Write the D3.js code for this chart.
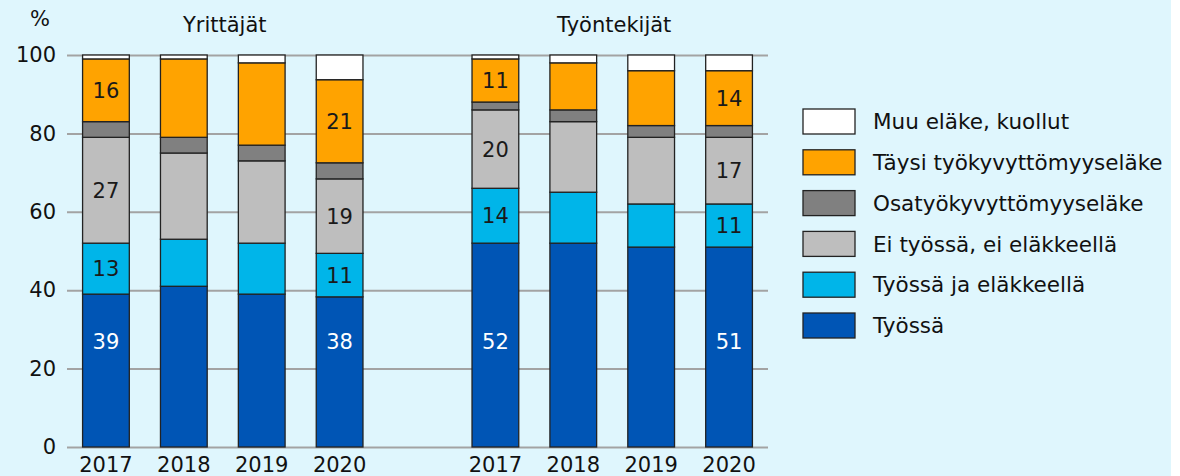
<!DOCTYPE html>
<html>
<head>
<meta charset="utf-8">
<script src="https://cdn.jsdelivr.net/npm/d3@7"></script>
<style>
  body { margin: 0; background: #fff; }
  svg { display: block; }
</style>
</head>
<body>
<div id="chart"></div>
<script>
/**
 * CONSTANTS AND GLOBALS
 * */
const width = 1180,
  height = 476,
  font = "DejaVu Sans, sans-serif";

// data
const groups = ["Yrittäjät", "Työntekijät"];
const years = ["2017", "2018", "2019", "2020"];
const labelYears = ["2017", "2020"];
const categories = [
  "Työssä",
  "Työssä ja eläkkeellä",
  "Ei työssä, ei eläkkeellä",
  "Osatyökyvyttömyyseläke",
  "Täysi työkyvyttömyyseläke",
  "Muu eläke, kuollut",
];
// which categories get a value printed in the bar
const labelled = ["Työssä", "Työssä ja eläkkeellä", "Ei työssä, ei eläkkeellä", "Täysi työkyvyttömyyseläke"];
const colors = ["#0055b5", "#00b5e9", "#bebebe", "#808080", "#ffa300", "#ffffff"];
// one value per bar: Yrittäjät 2017-2020, then Työntekijät 2017-2020
const tyossa = [39, 41, 39, 38.3, 52, 52, 51, 51];
const tyossaJaElakkeella = [13, 12, 13, 11.1, 14, 13, 11, 11];
const eiTyossa = [27, 22, 21, 19.0, 20, 18, 17, 17];
const osatyokyvyttomyys = [4, 4, 4, 4.1, 2, 3, 3, 3];
const taysiTyokyvyttomyys = [16, 20, 21, 21.2, 11, 12, 14, 14];
const muuElake = [1, 1, 2, 6.3, 1, 2, 4, 4];
const yTicks = [0, 20, 40, 60, 80, 100];

const series = [tyossa, tyossaJaElakkeella, eiTyossa, osatyokyvyttomyys, taysiTyokyvyttomyys, muuElake];

// build one row per bar
const rows = [];
groups.forEach((g, gi) => {
  years.forEach((yr, yi) => {
    const i = gi * years.length + yi;
    const row = { key: g + yr, group: g, year: yr };
    categories.forEach((c, ci) => (row[c] = series[ci][i]));
    rows.push(row);
  });
});

init();

function init() {
  const svg = d3
    .select("#chart")
    .append("svg")
    .attr("width", width)
    .attr("height", height);

  svg.append("rect")
    .attr("width", 1171)
    .attr("height", height)
    .attr("fill", "#dff6fd");

  // 4 bars, an empty slot, 4 bars
  const xDomain = [...years.map(y => groups[0] + y), "gap", ...years.map(y => groups[1] + y)];
  const x = d3.scaleBand()
    .domain(xDomain)
    .range([67, 768])
    .paddingInner(0.4)
    .paddingOuter(0.2);

  const y = d3.scaleLinear().domain([0, 100]).range([447, 55]);

  // gridlines + tick labels
  const yAxis = svg.append("g")
    .attr("transform", "translate(67,0)")
    .call(d3.axisLeft(y).tickValues(yTicks).tickSize(-701).tickPadding(11));
  yAxis.select(".domain").remove();
  yAxis.selectAll(".tick line").attr("stroke", "#a3a3a3").attr("stroke-width", 2);
  yAxis.selectAll(".tick text")
    .attr("font-family", font)
    .attr("font-size", 21)
    .attr("fill", "#111");

  const stacked = d3.stack().keys(categories)(rows);

  const layers = svg.selectAll(".layer")
    .data(stacked)
    .join("g")
    .attr("class", "layer")
    .attr("fill", (d, i) => colors[i]);

  layers.selectAll("rect")
    .data(d => d)
    .join("rect")
    .attr("x", d => x(d.data.key))
    .attr("width", x.bandwidth())
    .attr("y", d => y(d[1]))
    .attr("height", d => y(d[0]) - y(d[1]))
    .attr("stroke", "#222")
    .attr("stroke-width", 1.3);

  // value labels for 2017 and 2020
  const labelData = [];
  stacked.filter(layer => labelled.includes(layer.key)).forEach(layer => {
    layer.forEach(d => {
      if (labelYears.includes(d.data.year)) {
        const isBlue = layer.key === categories[0];
        // blue labels sit low in the bar
        const pos = isBlue ? 27 : (d[0] + d[1]) / 2;
        labelData.push({ key: d.data.key, value: d[1] - d[0], pos: pos, white: isBlue });
      }
    });
  });

  svg.selectAll(".val")
    .data(labelData)
    .join("text")
    .attr("class", "val")
    .attr("x", d => x(d.key) + x.bandwidth() / 2)
    .attr("y", d => y(d.pos))
    .attr("dy", "0.36em")
    .attr("text-anchor", "middle")
    .attr("font-family", font)
    .attr("font-size", 21)
    .attr("fill", d => (d.white ? "#fff" : "#1a1a1a"))
    .text(d => d3.format(".0f")(d.value));

  // year labels
  svg.selectAll(".year")
    .data(rows)
    .join("text")
    .attr("class", "year")
    .attr("x", d => x(d.key) + x.bandwidth() / 2)
    .attr("y", 472)
    .attr("text-anchor", "middle")
    .attr("font-family", font)
    .attr("font-size", 21)
    .attr("fill", "#111")
    .text(d => d.year);

  // group titles
  svg.selectAll(".title")
    .data(groups)
    .join("text")
    .attr("class", "title")
    .attr("x", g => {
      const first = x(g + years[0]);
      const last = x(g + years[years.length - 1]) + x.bandwidth();
      return (first + last) / 2 + 2;
    })
    .attr("y", 32)
    .attr("text-anchor", "middle")
    .attr("font-family", font)
    .attr("font-size", 21)
    .attr("fill", "#111")
    .text(g => g);

  svg.append("text")
    .attr("x", 40)
    .attr("y", 26)
    .attr("text-anchor", "middle")
    .attr("font-family", font)
    .attr("font-size", 21)
    .attr("fill", "#111")
    .text("%");

  // legend, top entry is the top of the stack
  const legendItems = categories.map((c, i) => ({ name: c, color: colors[i] })).reverse();
  const legend = svg.selectAll(".legend")
    .data(legendItems)
    .join("g")
    .attr("class", "legend")
    .attr("transform", (d, i) => `translate(803,${109 + i * 40.8})`);

  legend.append("rect")
    .attr("width", 52)
    .attr("height", 25)
    .attr("fill", d => d.color)
    .attr("stroke", "#222")
    .attr("stroke-width", 1.3);

  legend.append("text")
    .attr("x", 70)
    .attr("y", 12.5)
    .attr("dy", "0.36em")
    .attr("font-family", font)
    .attr("font-size", 21.5)
    .attr("fill", "#111")
    .text(d => d.name);
}
</script>
</body>
</html>
